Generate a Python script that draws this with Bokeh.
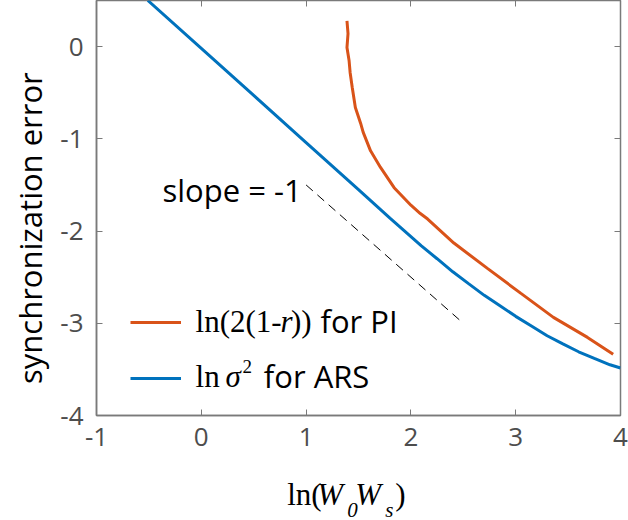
from bokeh.plotting import figure
from bokeh.layouts import column
from bokeh.models import Range1d, FixedTicker, LinearAxis, Label, Legend, LegendItem
from bokeh.embed import file_html
from bokeh.resources import INLINE
from bokeh.core.properties import value

# ---- data ----
x_ticks = [-1, 0, 1, 2, 3, 4]
y_ticks = [-4, -3, -2, -1, 0]

ars_x = [-0.51, 0.0, 0.5, 1.0, 1.5, 1.8, 2.1, 2.25, 2.4, 2.55, 2.7, 2.85, 3.0, 3.15,
         3.3, 3.45, 3.6, 3.75, 3.9, 4.0]
ars_y = [0.50, -0.02, -0.53, -1.04, -1.55, -1.86, -2.16, -2.30, -2.442, -2.57, -2.697,
         -2.81, -2.925, -3.03, -3.135, -3.224, -3.309, -3.38, -3.45, -3.485]

pi_x = [1.39, 1.40, 1.39, 1.41, 1.42, 1.44, 1.47, 1.52, 1.545, 1.615, 1.71, 1.84,
        2.00, 2.09, 2.16, 2.41, 2.73, 3.05, 3.36, 3.685, 3.93]
pi_y = [0.28, 0.14, -0.01, -0.15, -0.28, -0.44, -0.66, -0.83, -0.93, -1.13, -1.31,
        -1.53, -1.72, -1.81, -1.87, -2.13, -2.405, -2.676, -2.936, -3.153, -3.337]

slope_x = [1.0, 2.47]
slope_y = [-1.5, -2.97]

BLUE = "#0072BD"
ORANGE = "#D95319"
AXC = "#7a7a7a"
TICKC = "#4d4d4d"
SANS = "Open Sans"
SERIF = "Liberation Serif"
DY = 12  # baseline correction in px

xr = Range1d(-1, 4)
p = figure(width=628, height=460, output_backend="svg", toolbar_location=None,
           x_range=xr, y_range=Range1d(-4, 0.5),
           min_border_left=96, min_border_right=8, min_border_top=0, min_border_bottom=45)
p.grid.visible = False
p.outline_line_color = AXC
p.outline_line_width = 1.5
p.background_fill_color = "white"
p.border_fill_color = "white"

for ax in (p.xaxis[0], p.yaxis[0]):
    ax.major_tick_in = 6
    ax.major_tick_out = 0
    ax.minor_tick_line_color = None
    ax.axis_line_color = AXC
    ax.axis_line_width = 1.5
    ax.major_tick_line_color = AXC
    ax.major_label_text_font = SANS
    ax.major_label_text_font_size = "26px"
    ax.major_label_text_color = TICKC
p.xaxis[0].ticker = FixedTicker(ticks=x_ticks)
p.yaxis[0].ticker = FixedTicker(ticks=y_ticks)
p.xaxis[0].major_label_overrides = {t: str(t) for t in x_ticks}
p.yaxis[0].major_label_overrides = {t: str(t) for t in y_ticks}
p.xaxis[0].major_label_standoff = 12
p.yaxis[0].major_label_standoff = 13

# trailing no-break spaces shift the centred, rotated label downwards
p.yaxis[0].axis_label = "synchronization error" + "\u00a0" * 5
p.yaxis[0].axis_label_text_font = SANS
p.yaxis[0].axis_label_text_font_size = "31px"
p.yaxis[0].axis_label_text_font_style = "normal"
p.yaxis[0].axis_label_text_color = "black"
p.yaxis[0].axis_label_standoff = 6

# top & right axes: inward ticks only, no labels
top = LinearAxis(ticker=FixedTicker(ticks=x_ticks), major_label_text_font_size="1px",
                 major_label_overrides={t: "" for t in x_ticks},
                 major_label_standoff=0, major_tick_in=6, major_tick_out=0,
                 minor_tick_line_color=None, axis_line_color=None, major_tick_line_color=AXC)
right = LinearAxis(ticker=FixedTicker(ticks=y_ticks), major_label_text_font_size="1px",
                   major_label_overrides={t: "" for t in y_ticks},
                   major_label_standoff=0, major_tick_in=6, major_tick_out=0,
                   minor_tick_line_color=None, axis_line_color=None, major_tick_line_color=AXC)
p.add_layout(top, "above")
p.add_layout(right, "right")

r_pi = p.line(pi_x, pi_y, line_color=ORANGE, line_width=3)
r_ars = p.line(ars_x, ars_y, line_color=BLUE, line_width=3)
p.line(slope_x, slope_y, line_color="black", line_width=1, line_dash="9 6")

legend = Legend(items=[LegendItem(label=value(" "), renderers=[r_pi]),
                       LegendItem(label=value(" "), renderers=[r_ars])],
                location=(34, 27), glyph_width=51, glyph_height=20, label_width=0,
                label_height=20, spacing=36, padding=0, margin=0,
                border_line_color=None, background_fill_alpha=0,
                label_text_font_size="2px", label_standoff=0)
p.add_layout(legend)


def piece(fig, x, y, text, xo=0, yo=0, font=SERIF, size="31px", style="normal", color="black"):
    fig.add_layout(Label(x=x, y=y, x_offset=xo, y_offset=yo + DY, text=text, text_font=font,
                         text_font_size=size, text_font_style=style, text_color=color,
                         text_baseline="alphabetic", text_align="left"))


# slope annotation
piece(p, -0.37, -1.69, "slope = -1", font=SANS, size="31px")

# legend texts
lx = -0.055
piece(p, lx, -3.106, "ln(2(1-", 0)
piece(p, lx, -3.106, "r", 85, style="italic")
piece(p, lx, -3.106, "))", 95.5)
piece(p, lx, -3.106, "for PI", 125, font=SANS, size="31px")

piece(p, lx, -3.702, "ln", 0)
piece(p, lx, -3.702, "σ", 30, style="italic")
piece(p, lx, -3.702, "2", 47, yo=10, size="19px")
piece(p, lx, -3.702, "for ARS", 68.3, font=SANS, size="31px")

# x axis label ln(W0 Ws) in its own strip below the axes (shares the x range)
q = figure(width=628, height=60, output_backend="svg", toolbar_location=None,
           x_range=xr, y_range=Range1d(0, 60),
           x_axis_type=None, y_axis_type=None,
           min_border_left=96, min_border_right=8, min_border_top=0, min_border_bottom=0)
q.grid.visible = False
q.outline_line_color = None
xx, xy = 0.82, 14
piece(q, xx, xy, "ln(", 0)
piece(q, xx, xy, "W", 30, style="italic")
piece(q, xx, xy, "0", 60, yo=-15, size="21px", style="italic")
piece(q, xx, xy, "W", 68, style="italic")
piece(q, xx, xy, "s", 98, yo=-15, size="21px", style="italic")
piece(q, xx, xy, ")", 108)

layout = column(p, q, spacing=0)
open("out.html", "w").write(file_html(layout, INLINE))
